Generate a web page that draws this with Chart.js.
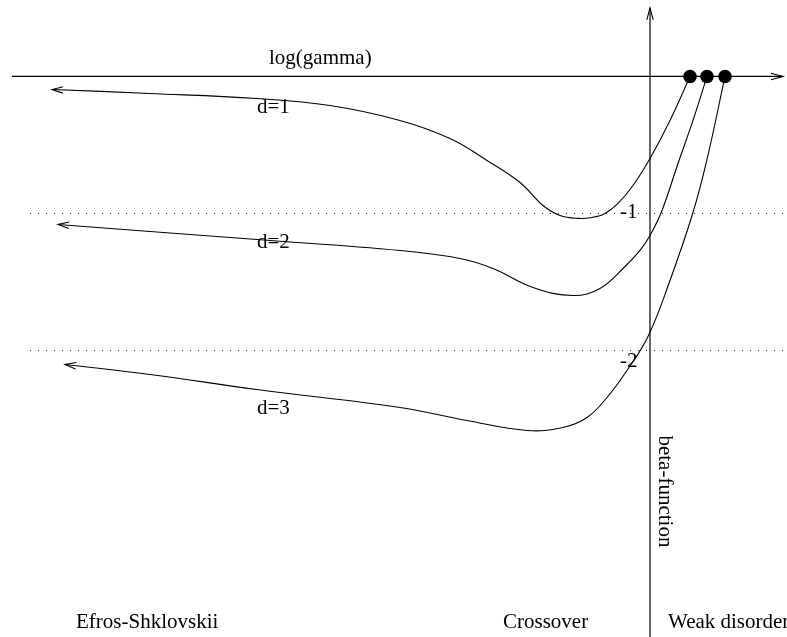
<!DOCTYPE html>
<html>
<head>
<meta charset="utf-8">
<script src="https://cdn.jsdelivr.net/npm/chart.js@4.4.1/dist/chart.umd.min.js"></script>
<style>
  html, body { margin: 0; padding: 0; background: #fff; }
  #wrap { width: 787px; height: 637px; position: relative; }
</style>
</head>
<body>
<div id="wrap"><canvas id="myChart"></canvas></div>
<script>
// beta-function flow curves, x = log(gamma), y = beta
const d1X = [-5.98, -5.0, -3.93, -3.2, -2.5, -2.0, -1.63, -1.3, -1.07, -0.9, -0.72, -0.58, -0.45, -0.32, -0.17, 0.0, 0.2, 0.4];
const d1Y = [-0.095, -0.124, -0.161, -0.212, -0.321, -0.453, -0.613, -0.774, -0.942, -1.015, -1.036, -1.029, -1.0, -0.927, -0.796, -0.599, -0.321, 0.0];

const d2X = [-5.92, -5.0, -3.93, -2.5, -1.9, -1.57, -1.17, -0.77, -0.5, -0.25, -0.10, 0.0, 0.12, 0.28, 0.43, 0.57];
const d2Y = [-1.08, -1.131, -1.19, -1.27, -1.328, -1.401, -1.54, -1.599, -1.547, -1.387, -1.27, -1.161, -0.978, -0.635, -0.321, 0.0];

const d3X = [-5.85, -5.0, -3.93, -2.5, -1.83, -1.23, -0.87, -0.63, -0.43, -0.23, -0.02, 0.2, 0.43, 0.57, 0.75];
const d3Y = [-2.102, -2.175, -2.285, -2.416, -2.511, -2.584, -2.562, -2.489, -2.343, -2.146, -1.898, -1.489, -0.993, -0.606, 0.0];

// fixed points on the log(gamma) axis
const fixedX = [0.4, 0.57, 0.75];
const fixedY = [0, 0, 0];

// reference levels
const levels = [-1, -2];
const levelLabels = ['-1', '-2'];
const curveLabels = ['d=1', 'd=2', 'd=3'];
const regionLabels = ['Efros-Shklovskii', 'Crossover', 'Weak disorder'];

const toPts = (xs, ys) => xs.map((x, i) => ({ x: x, y: ys[i] }));
const ink = '#000';

const curveStyle = {
    showLine: true,
    borderColor: ink,
    borderWidth: 1.1,
    pointRadius: 0,
    tension: 0.4,
    fill: false
};

const datasets = [
    Object.assign({ label: 'd=1', data: toPts(d1X, d1Y) }, curveStyle),
    Object.assign({ label: 'd=2', data: toPts(d2X, d2Y) }, curveStyle),
    Object.assign({ label: 'd=3', data: toPts(d3X, d3Y) }, curveStyle),
    // axes
    { label: 'xaxis', data: [{ x: -6.38, y: 0 }, { x: 1.33, y: 0 }], showLine: true, borderColor: ink, borderWidth: 1.2, pointRadius: 0 },
    { label: 'yaxis', data: [{ x: 0, y: -4.2 }, { x: 0, y: 0.5 }], showLine: true, borderColor: ink, borderWidth: 1.2, pointRadius: 0 }
];
levels.forEach(l => datasets.push({
    label: 'level', data: [{ x: -6.2, y: l }, { x: 1.37, y: l }],
    showLine: true, borderColor: '#222', borderWidth: 1, borderDash: [1, 7], borderCapStyle: 'butt', pointRadius: 0
}));
datasets.push({
    label: 'fixed', data: toPts(fixedX, fixedY), showLine: false,
    pointRadius: 6.8, backgroundColor: ink, borderColor: ink, pointBorderWidth: 0
});

const font = '21px "Liberation Serif", "Times New Roman", serif';

// arrowheads and text
const decor = {
    id: 'decor',
    afterDatasetsDraw(chart) {
        const ctx = chart.ctx;
        const xs = chart.scales.x, ys = chart.scales.y;
        const px = v => xs.getPixelForValue(v), py = v => ys.getPixelForValue(v);

        function arrow(tx, ty, fx, fy, len, half) {
            const a = Math.atan2(ty - fy, tx - fx);
            ctx.beginPath();
            ctx.moveTo(tx - len * Math.cos(a) + half * Math.sin(a), ty - len * Math.sin(a) - half * Math.cos(a));
            ctx.lineTo(tx, ty);
            ctx.lineTo(tx - len * Math.cos(a) - half * Math.sin(a), ty - len * Math.sin(a) + half * Math.cos(a));
            ctx.stroke();
        }

        ctx.save();
        ctx.strokeStyle = ink;
        ctx.lineWidth = 1.1;
        [[d1X, d1Y], [d2X, d2Y], [d3X, d3Y]].forEach(([X, Y]) => {
            arrow(px(X[0]), py(Y[0]), px(X[1]), py(Y[1]), 11, 3.2);
        });
        arrow(px(1.33), py(0), px(1.0), py(0), 12, 3.2);
        arrow(px(0), py(0.5), px(0), py(0.2), 12, 3.2);

        ctx.fillStyle = ink;
        ctx.font = font;
        ctx.textBaseline = 'alphabetic';
        ctx.textAlign = 'left';
        ctx.fillText('log(gamma)', px(-3.81), py(0.088));
        ctx.fillText(curveLabels[0], px(-3.93), py(-0.27));
        ctx.fillText(curveLabels[1], px(-3.93), py(-1.255));
        ctx.fillText(curveLabels[2], px(-3.93), py(-2.46));
        ctx.fillText(levelLabels[0], px(-0.30), py(-1.036));
        ctx.fillText(levelLabels[1], px(-0.30), py(-2.124));
        ctx.fillText(regionLabels[0], px(-5.74), py(-4.022));
        ctx.fillText(regionLabels[1], px(-1.47), py(-4.022));
        ctx.fillText(regionLabels[2], px(0.18), py(-4.022));

        ctx.translate(px(0.09), py(-2.62));
        ctx.rotate(Math.PI / 2);
        ctx.fillText('beta-function', 0, 0);
        ctx.restore();
    }
};

const config = {
    type: 'scatter',
    data: { datasets: datasets },
    options: {
        responsive: true,
        maintainAspectRatio: false,
        animation: false,
        layout: { padding: 0, autoPadding: false },
        plugins: { legend: { display: false }, tooltip: { enabled: false } },
        scales: {
            x: { type: 'linear', display: false, min: -6.5, max: 1.37 },
            y: { type: 'linear', display: false, min: -4.091, max: 0.558 }
        }
    },
    plugins: [decor]
};

var myChart = new Chart(document.getElementById('myChart'), config);
</script>
</body>
</html>
